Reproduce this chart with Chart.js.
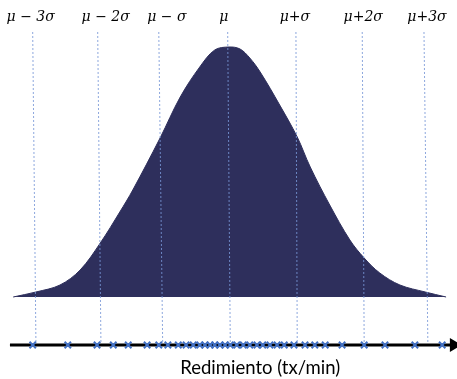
<!DOCTYPE html>
<html>
<head>
<meta charset="utf-8">
<script src="https://cdn.jsdelivr.net/npm/chart.js@4"></script>
<style>
    html, body { margin: 0; padding: 0; background: #fff; }
    #wrap { width: 457px; height: 379px; }
</style>
</head>
<body>
<div id="wrap"><canvas id="normalChart"></canvas></div>
<script>
// x values are in sigma units (0 = mu), curve heights relative to the peak
const curveX = [-3.32, -2.97, -2.60, -2.29, -1.98, -1.68, -1.48, -1.06, -0.75, -0.45, -0.22, 0, 0.17, 0.32, 0.48, 0.78, 1.05, 1.25, 1.55, 1.86, 2.08, 2.32, 2.63, 3.02, 3.34];
const curveY = [0, 0.02, 0.048, 0.108, 0.216, 0.34, 0.428, 0.636, 0.8, 0.92, 0.988, 1.0, 0.992, 0.956, 0.9, 0.768, 0.64, 0.52, 0.368, 0.228, 0.156, 0.096, 0.048, 0.02, 0];

const sigmaLabels = ['μ − 3σ', 'μ − 2σ', 'μ − σ', 'μ', 'μ+σ', 'μ+2σ', 'μ+3σ'];
// guide lines are slightly slanted in the original: top and bottom x
const guideTopX = [-3.02, -2.02, -1.08, -0.02, 1.03, 2.05, 3.00];
const guideBottomX = [-2.97, -1.97, -1.02, 0.02, 1.05, 2.08, 3.06];

// observed values along the axis
const sampleX = [-3.02, -2.48, -2.03, -1.78, -1.55, -1.26, -1.08, -0.94, -0.78, -0.66, -0.55, -0.45, -0.37, -0.29, -0.22, -0.14, -0.06, 0.02, 0.12, 0.22, 0.32, 0.43, 0.52, 0.63, 0.74, 0.85, 1.00, 1.17, 1.32, 1.48, 1.74, 2.08, 2.40, 2.86, 3.28];

const axisTitle = 'Redimiento (tx/min)';

const AXIS_Y = -0.192;
const GUIDE_TOP = 1.06;
// small pixel nudges so the labels sit where they do in the original
const labelNudge = [-2, 8, 8, -4, -1, 1, 3];

function buildDatasets() {
    const datasets = [];

    datasets.push({
        data: curveX.map((x, i) => ({ x: x, y: curveY[i] })),
        borderColor: '#2e2f5c',
        backgroundColor: '#2e2f5c',
        borderWidth: 1,
        fill: 'origin',
        tension: 0.35,
        pointRadius: 0,
        order: 10
    });

    guideTopX.forEach((x, i) => {
        datasets.push({
            data: [{ x: x, y: GUIDE_TOP }, { x: guideBottomX[i], y: AXIS_Y }],
            borderColor: 'rgba(120, 150, 215, 0.85)',
            borderWidth: 1,
            borderDash: [2, 2],
            pointRadius: 0,
            fill: false,
            order: 5
        });
    });

    // horizontal axis with an arrow at the right end
    datasets.push({
        data: [{ x: -3.37, y: AXIS_Y }, { x: 3.46, y: AXIS_Y }],
        borderColor: '#000',
        backgroundColor: '#000',
        borderWidth: 3,
        pointRadius: [0, 5],
        pointStyle: 'triangle',
        rotation: 90,
        fill: false,
        order: 3
    });

    datasets.push({
        data: sampleX.map(x => ({ x: x, y: AXIS_Y })),
        showLine: false,
        pointStyle: 'crossRot',
        pointRadius: 4.5,
        pointBorderWidth: 2,
        pointBorderColor: '#4472c4',
        pointBackgroundColor: '#4472c4',
        order: 1
    });

    return datasets;
}

const textPlugin = {
    id: 'textPlugin',
    afterDatasetsDraw(chart) {
        const ctx = chart.ctx;
        const xs = chart.scales.x;
        const ys = chart.scales.y;
        ctx.save();
        ctx.fillStyle = '#000';
        ctx.textAlign = 'center';
        ctx.textBaseline = 'middle';
        ctx.font = 'italic 14px "DejaVu Serif", serif';
        sigmaLabels.forEach((label, i) => {
            ctx.fillText(label, xs.getPixelForValue(guideTopX[i]) + labelNudge[i], ys.getPixelForValue(1.12));
        });
        ctx.font = '18.5px Lato, "Open Sans", sans-serif';
        ctx.fillText(axisTitle, xs.getPixelForValue(0.48), ys.getPixelForValue(-0.284));
        ctx.restore();
    }
};

new Chart(document.getElementById('normalChart').getContext('2d'), {
    type: 'line',
    data: { datasets: buildDatasets() },
    options: {
        responsive: true,
        maintainAspectRatio: false,
        animation: false,
        layout: { padding: 0, autoPadding: false },
        plugins: {
            legend: { display: false },
            tooltip: { enabled: false }
        },
        scales: {
            x: { type: 'linear', min: -3.523, max: 3.508, display: false },
            y: { min: -0.328, max: 1.188, display: false }
        }
    },
    plugins: [textPlugin]
});
</script>
</body>
</html>
